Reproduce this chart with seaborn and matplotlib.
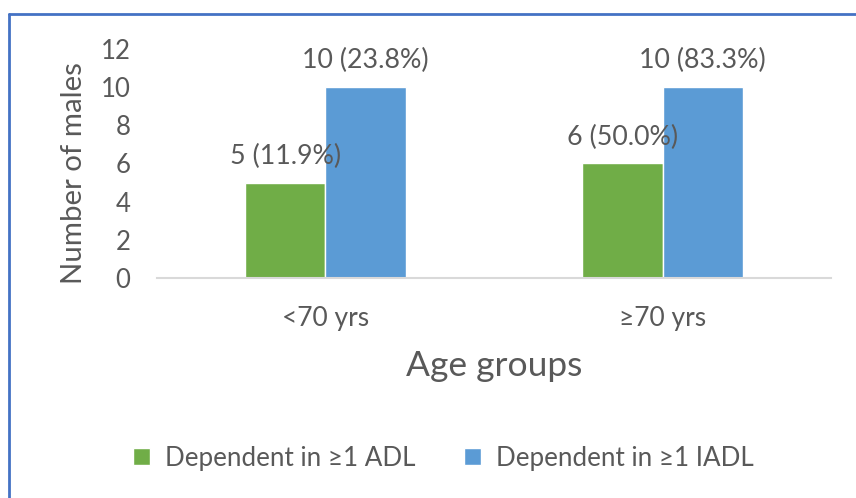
import matplotlib
matplotlib.use("Agg")
import matplotlib.pyplot as plt
from matplotlib.lines import Line2D
import seaborn as sns
import pandas as pd

# Data
age_groups = ["<70 yrs", "\u226570 yrs"]
series = ["Dependent in \u22651 ADL", "Dependent in \u22651 IADL"]
adl_counts = [5, 6]
adl_pct = [11.9, 50.0]
iadl_counts = [10, 10]
iadl_pct = [23.8, 83.3]
y_ticks = [0, 2, 4, 6, 8, 10, 12]

GREEN = "#70AD47"
BLUE = "#5B9BD5"
TEXT = "#595959"
FRAME = "#4472C4"

sns.set_theme(style="white")
plt.rcParams["font.family"] = ["Lato", "DejaVu Sans"]

df = pd.DataFrame({
    "Age groups": age_groups * 2,
    "Series": [series[0]] * 2 + [series[1]] * 2,
    "Count": adl_counts + iadl_counts,
})

fig = plt.figure(figsize=(8.56, 4.98), dpi=100)
ax = fig.add_axes([0.1834, 0.4418, 0.7874, 0.4598])

sns.barplot(data=df, x="Age groups", y="Count", hue="Series",
            palette=[GREEN, BLUE], saturation=1, width=0.475,
            edgecolor="white", linewidth=1.0, ax=ax, legend=True)

ax.set_ylim(0, 12)
ax.set_yticks(y_ticks)
ax.set_yticklabels([str(t) for t in y_ticks])
ax.tick_params(axis="y", labelsize=18.5, colors=TEXT, length=0, pad=19)
ax.tick_params(axis="x", labelsize=19, colors=TEXT, length=0, pad=20)

for side in ["left", "right", "top"]:
    ax.spines[side].set_visible(False)
ax.spines["bottom"].set_color("#D9D9D9")
ax.spines["bottom"].set_linewidth(1.5)

ax.set_ylabel("Number of males", fontsize=21.2, color=TEXT)
ax.yaxis.set_label_coords(-0.104, 0.46)
ax.set_xlabel("Age groups", fontsize=25.5, color=TEXT, labelpad=14)

# Value labels: count with percentage
label_sets = [
    [f"{n} ({p:.1f}%)" for n, p in zip(adl_counts, adl_pct)],
    [f"{n} ({p:.1f}%)" for n, p in zip(iadl_counts, iadl_pct)],
]
for container, labels in zip(ax.containers, label_sets):
    ax.bar_label(container, labels=labels, padding=10, fontsize=19.3, color=TEXT)

# Legend along the bottom
handles, labels = ax.get_legend_handles_labels()
ax.get_legend().remove()
fig.legend(handles, labels, loc="center", bbox_to_anchor=(0.518, 0.080),
           ncol=2, frameon=False, fontsize=18.7, labelcolor=TEXT,
           handlelength=0.65, handleheight=0.65, handletextpad=0.58,
           columnspacing=1.9)

# Chart-area frame (top and left edges)
fig.add_artist(Line2D([9 / 856, 1.0], [1 - 14 / 498, 1 - 14 / 498],
                      transform=fig.transFigure, color=FRAME, linewidth=2.0))
fig.add_artist(Line2D([9 / 856, 9 / 856], [0.0, 1 - 14 / 498],
                      transform=fig.transFigure, color=FRAME, linewidth=2.0))

fig.savefig("out.png", dpi=100, facecolor="white")
